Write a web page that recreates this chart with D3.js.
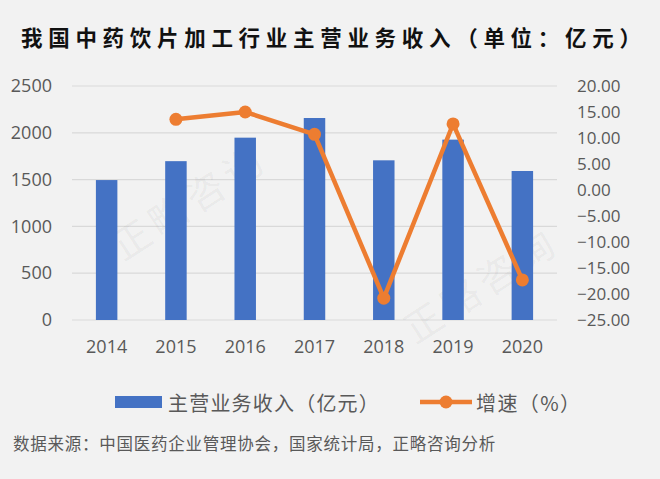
<!DOCTYPE html>
<html><head><meta charset="utf-8">
<script src="https://cdn.jsdelivr.net/npm/d3@7"></script>
<style>
html,body{margin:0;padding:0;background:#F2F2F2;}
svg{display:block;}
</style></head>
<body>
<script>
const years = ["2014","2015","2016","2017","2018","2019","2020"];
const revenue = [1495, 1697, 1948, 2158, 1706, 1927, 1592];
const growth = [null, 13.6, 15.0, 10.7, -20.8, 12.7, -17.3];
const leftTicks = [0, 500, 1000, 1500, 2000, 2500];
const rightTicks = [20, 15, 10, 5, 0, -5, -10, -15, -20, -25];
const title = "我国中药饮片加工行业主营业务收入（单位：亿元）";
const legendBar = "主营业务收入（亿元）";
const legendLine = "增速（%）";
const source = "数据来源：中国医药企业管理协会，国家统计局，正略咨询分析";
const watermark = "正略咨询";

const W = 660, H = 479;
const font = "'Open Sans','Noto Sans CJK SC',sans-serif";
const cjk = "'Noto Sans CJK SC',sans-serif";
const svg = d3.select("body").append("svg").attr("width", W).attr("height", H);
svg.append("rect").attr("width", W).attr("height", H).attr("fill", "#F2F2F2");

const x = d3.scaleBand().domain(years).range([72, 557]).paddingInner(0.69).paddingOuter(0.345);
const yL = d3.scaleLinear().domain([0, 2500]).range([320, 86]);
const yR = d3.scaleLinear().domain([-25, 20]).range([320, 86]);

// title
svg.append("text").attr("x", 21).attr("y", 46).text(title)
  .attr("font-family", "'Noto Sans CJK SC',serif").attr("font-weight", "bold")
  .attr("font-size", 21.5).attr("letter-spacing", "5.7px").attr("fill", "#111");

// gridlines
svg.append("g").selectAll("line").data(leftTicks).join("line")
  .attr("x1", 72).attr("x2", 557).attr("y1", d => yL(d)).attr("y2", d => yL(d))
  .attr("stroke", "#D9D9D9").attr("stroke-width", 1.2);

// left axis
const gl = svg.append("g").attr("transform", "translate(52,0)")
  .call(d3.axisLeft(yL).tickValues(leftTicks).tickSize(0).tickPadding(0).tickFormat(d3.format("d")));
gl.select(".domain").remove();
gl.selectAll("text").attr("font-family", font).attr("font-size", 18).attr("fill", "#595959");

// right axis
const gr = svg.append("g").attr("transform", "translate(577,0)")
  .call(d3.axisRight(yR).tickValues(rightTicks).tickSize(0).tickPadding(0).tickFormat(d3.format(".2f")));
gr.select(".domain").remove();
gr.selectAll("text").attr("font-family", font).attr("font-size", 17).attr("fill", "#595959");

// x axis
const gx = svg.append("g").attr("transform", "translate(0,337)")
  .call(d3.axisBottom(x).tickSize(0).tickPadding(0));
gx.select(".domain").remove();
gx.selectAll("text").attr("font-family", font).attr("font-size", 18).attr("fill", "#595959").attr("dy", "0.9em");

// watermarks
const wm = [[188, 200], [480, 283]];
wm.forEach(p => {
  svg.append("text").attr("transform", `translate(${p[0]},${p[1]}) rotate(-33)`)
    .attr("text-anchor", "middle").attr("dominant-baseline", "central")
    .attr("font-family", cjk).attr("font-size", 38).attr("letter-spacing", "6px")
    .attr("fill", "rgba(0,0,0,0.05)").text(watermark);
});

// bars
svg.append("g").selectAll("rect").data(years).join("rect")
  .attr("x", d => x(d)).attr("width", x.bandwidth())
  .attr("y", (d, i) => yL(revenue[i])).attr("height", (d, i) => yL(0) - yL(revenue[i]))
  .attr("fill", "#4472C4");

// line
const pts = years.map((d, i) => ({ y: d, v: growth[i] })).filter(d => d.v !== null);
const cx = d => x(d.y) + x.bandwidth() / 2;
svg.append("path").datum(pts)
  .attr("d", d3.line().x(cx).y(d => yR(d.v)))
  .attr("fill", "none").attr("stroke", "#ED7D31").attr("stroke-width", 4.5).attr("stroke-linejoin", "round");
svg.append("g").selectAll("circle").data(pts).join("circle")
  .attr("cx", cx).attr("cy", d => yR(d.v)).attr("r", 6.5).attr("fill", "#ED7D31");

// legend
svg.append("rect").attr("x", 115).attr("y", 396).attr("width", 47).attr("height", 12).attr("fill", "#4472C4");
svg.append("text").attr("x", 168).attr("y", 402).attr("dominant-baseline", "central")
  .attr("font-family", cjk).attr("font-size", 20).attr("letter-spacing", "1.2px").attr("fill", "#595959").text(legendBar);
svg.append("line").attr("x1", 420).attr("x2", 472).attr("y1", 402).attr("y2", 402)
  .attr("stroke", "#ED7D31").attr("stroke-width", 4.5);
svg.append("circle").attr("cx", 446).attr("cy", 402).attr("r", 6.5).attr("fill", "#ED7D31");
svg.append("text").attr("x", 476).attr("y", 402).attr("dominant-baseline", "central")
  .attr("font-family", cjk).attr("font-size", 20).attr("letter-spacing", "1.4px").attr("fill", "#595959").text(legendLine);

// source
svg.append("text").attr("x", 13).attr("y", 443).attr("dominant-baseline", "central")
  .attr("font-family", cjk).attr("font-size", 16.5).attr("letter-spacing", "0.75px").attr("fill", "#595959").text(source);
</script>
</body></html>
